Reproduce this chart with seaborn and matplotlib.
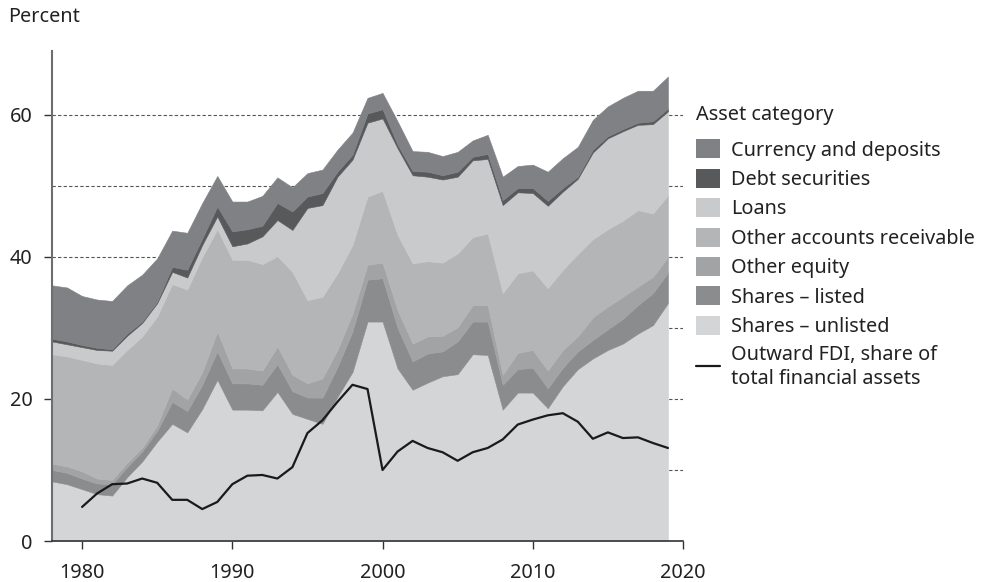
import matplotlib
matplotlib.use("Agg")
import matplotlib.pyplot as plt
import seaborn as sns
from matplotlib.patches import Patch
from matplotlib.lines import Line2D

# ---------------- data ----------------
years = list(range(1978, 2020))

shares_unlisted = [8.4, 8.0, 7.3, 6.6, 6.4, 9.0, 11.2, 14.0, 16.5, 15.3,
                   18.6, 22.7, 18.5, 18.5, 18.4, 21.0, 17.9, 17.2, 16.5, 20.3,
                   23.8, 30.9, 30.9, 24.3, 21.3, 22.3, 23.2, 23.5, 26.3, 26.2,
                   18.5, 20.9, 20.9, 18.7, 21.8, 24.2, 25.7, 26.9, 27.8, 29.2,
                   30.4, 33.5]
shares_listed = [1.6, 1.6, 1.5, 1.5, 1.6, 1.4, 1.4, 1.5, 3.1, 3.0,
                 3.4, 4.0, 3.7, 3.7, 3.6, 3.9, 3.2, 3.0, 3.7, 4.2,
                 5.7, 5.9, 6.1, 5.7, 4.0, 4.1, 3.5, 4.6, 4.6, 4.7,
                 3.5, 3.3, 3.5, 2.8, 2.6, 2.5, 2.6, 2.9, 3.5, 4.0,
                 4.5, 4.3]
other_equity = [0.9, 0.9, 1.0, 0.7, 0.6, 0.6, 0.5, 0.8, 1.9, 1.6,
                1.8, 2.8, 2.1, 2.1, 2.0, 2.5, 2.3, 2.0, 2.7, 2.4,
                2.5, 2.1, 2.2, 2.5, 2.5, 2.4, 2.2, 2.0, 2.3, 2.3,
                1.4, 2.3, 2.5, 2.5, 2.5, 2.1, 3.2, 3.2, 3.1, 2.6,
                2.3, 2.2]
other_receivable = [15.4, 15.5, 15.7, 16.2, 16.2, 15.9, 15.7, 15.3, 14.7, 15.5,
                    16.2, 14.4, 15.3, 15.3, 15.0, 12.7, 14.5, 11.7, 11.5, 10.8,
                    9.7, 9.6, 10.1, 10.6, 11.3, 10.6, 10.3, 10.4, 9.6, 10.1,
                    11.5, 11.2, 11.2, 11.6, 11.3, 11.6, 11.0, 10.9, 10.7, 10.8,
                    8.9, 8.7]
loans = [1.8, 1.7, 1.8, 1.9, 2.0, 2.0, 1.9, 1.9, 1.7, 1.7,
         1.7, 1.8, 1.9, 2.3, 3.9, 5.1, 5.9, 13.0, 12.9, 13.6,
         12.0, 10.4, 10.2, 12.2, 12.4, 11.9, 11.7, 10.8, 10.8, 10.5,
         12.4, 11.4, 10.9, 11.6, 11.0, 10.6, 12.2, 12.8, 12.6, 12.0,
         12.6, 11.8]
debt_securities = [0.4, 0.4, 0.3, 0.3, 0.2, 0.3, 0.2, 0.2, 0.7, 1.1,
                   0.9, 1.4, 2.1, 2.0, 1.5, 2.4, 2.6, 1.6, 1.7, 0.7,
                   0.7, 1.3, 1.3, 0.5, 0.6, 0.7, 0.6, 0.7, 0.5, 0.7,
                   0.7, 0.6, 0.7, 0.7, 0.5, 0.3, 0.4, 0.3, 0.3, 0.3,
                   0.4, 0.4]
currency_deposits = [7.5, 7.6, 6.9, 6.8, 6.8, 6.8, 6.6, 6.1, 5.1, 5.2,
                     5.0, 4.3, 4.2, 3.9, 4.2, 3.6, 3.4, 3.3, 3.3, 3.1,
                     3.1, 2.2, 2.3, 3.3, 2.8, 2.8, 2.7, 2.8, 2.3, 2.7,
                     3.3, 3.1, 3.3, 4.1, 4.2, 4.2, 4.2, 4.2, 4.4, 4.5,
                     4.3, 4.5]

fdi_years = list(range(1980, 2020))
outward_fdi = [4.8, 6.7, 8.0, 8.1, 8.8, 8.2, 5.8, 5.8, 4.5, 5.5,
               8.0, 9.2, 9.3, 8.8, 10.4, 15.2, 17.0, 19.6, 22.0, 21.4,
               10.0, 12.6, 14.1, 13.1, 12.5, 11.3, 12.5, 13.1, 14.3, 16.4,
               17.1, 17.7, 18.0, 16.8, 14.4, 15.3, 14.5, 14.6, 13.8, 13.1]

legend_labels = ["Currency and deposits", "Debt securities", "Loans",
                 "Other accounts receivable", "Other equity",
                 "Shares \u2013 listed", "Shares \u2013 unlisted"]
legend_title = "Asset category"
line_label = "Outward FDI, share of\ntotal financial assets"
x_ticks = [1980, 1990, 2000, 2010, 2020]
y_ticks = [0, 20, 40, 60]

# ---------------- style ----------------
sns.set_theme(style="white")
plt.rcParams["font.family"] = ["Noto Sans", "DejaVu Sans"]

col_su = "#d4d5d7"
col_sl = "#8b8c8e"
col_oe = "#a2a3a5"
col_oar = "#b4b5b7"
col_loans = "#c9cacc"
col_debt = "#58595b"
col_cur = "#808184"
stack_colors = [col_su, col_sl, col_oe, col_oar, col_loans, col_debt, col_cur]

FS = 14.3

fig = plt.figure(figsize=(9.82, 5.82), dpi=100)
ax = fig.add_axes([0.053, 0.0704, 0.6425, 0.842])

ax.set_axisbelow(True)
polys = ax.stackplot(years,
                     [shares_unlisted, shares_listed, other_equity,
                      other_receivable, loans, debt_securities,
                      currency_deposits],
                     colors=stack_colors, zorder=2)
for p, c in zip(polys, stack_colors):
    p.set_edgecolor(c)
    p.set_linewidth(0.4)

sns.lineplot(x=fdi_years, y=outward_fdi, color="#1a1a1a", linewidth=1.6,
             ax=ax, zorder=3)

ax.set_xlim(1978, 2020)
ax.set_ylim(0, 69)
ax.set_xticks(x_ticks)
ax.set_yticks(y_ticks)
ax.set_yticks([10, 30, 50], minor=True)
ax.tick_params(axis="both", which="major", labelsize=FS, colors="#222222",
               length=6, width=1.0, direction="out")
ax.tick_params(axis="y", which="minor", length=0)
ax.tick_params(axis="y", which="major", color="#333333", pad=8)
ax.tick_params(axis="x", which="major", color="#333333", pad=10)
ax.tick_params(axis="y", left=True)
ax.tick_params(axis="x", bottom=True)
ax.grid(False)
ax.yaxis.grid(True, which="both", linestyle=(0, (3, 2)), color="#555555",
              linewidth=0.8, zorder=0)

for s in ["top", "right"]:
    ax.spines[s].set_visible(False)
ax.spines["left"].set_color("#6d6e70")
ax.spines["left"].set_linewidth(1.5)
ax.spines["bottom"].set_color("#333333")
ax.spines["bottom"].set_linewidth(1.2)
ax.set_xlabel("")
ax.set_ylabel("")

fig.text(0.008, 0.970, "Percent", fontsize=FS, color="#222222",
         ha="left", va="center")

handles = [Patch(facecolor=c, edgecolor="none") for c in
           [col_cur, col_debt, col_loans, col_oar, col_oe, col_sl, col_su]]
handles.append(Line2D([0], [0], color="#1a1a1a", linewidth=1.6))
labels = legend_labels + [line_label]
leg = fig.legend(handles, labels, title=legend_title, loc="upper left",
                 bbox_to_anchor=(0.709, 0.819), frameon=False, fontsize=FS,
                 title_fontsize=FS, handlelength=1.2, handleheight=1.1,
                 handletextpad=0.55, labelspacing=0.41, borderaxespad=0,
                 borderpad=0, columnspacing=0)
leg._legend_box.align = "left"
leg._legend_box.sep = 10
for t in leg.get_texts():
    t.set_color("#222222")
    t.set_linespacing(1.25)
leg.get_title().set_color("#222222")

fig.savefig("out.png", dpi=100)
